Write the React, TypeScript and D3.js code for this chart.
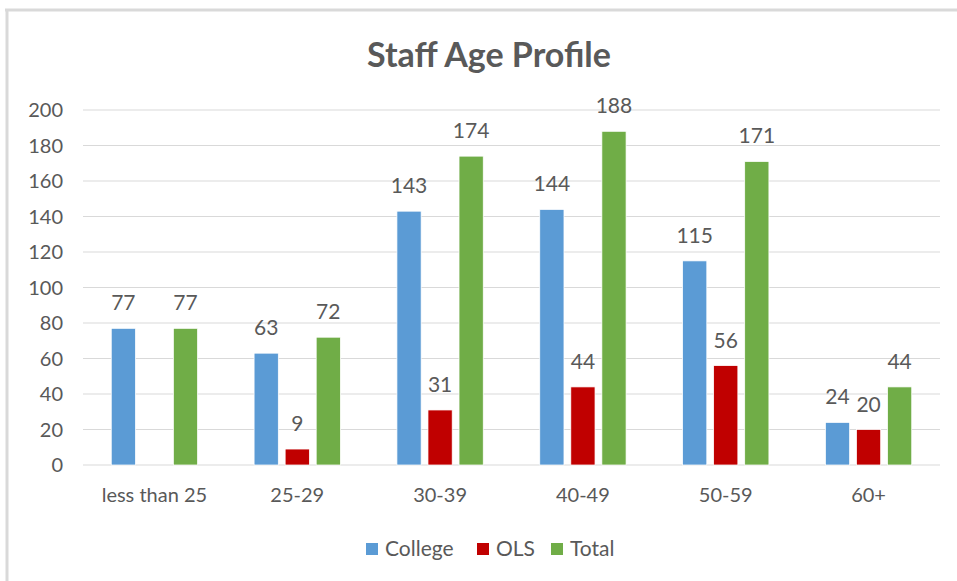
import * as d3 from "d3";

const categories = ["less than 25", "25-29", "30-39", "40-49", "50-59", "60+"];
const seriesNames = ["College", "OLS", "Total"];
const college = [77, 63, 143, 144, 115, 24];
const ols = [null, 9, 31, 44, 56, 20];
const total = [77, 72, 174, 188, 171, 44];
const yTicks = [0, 20, 40, 60, 80, 100, 120, 140, 160, 180, 200];
const colors = ["#5B9BD5", "#C00000", "#70AD47"];

const W = 957;
const H = 581;
const margin = { top: 110, right: 17, bottom: 116, left: 83 };
const font = "Lato, 'Open Sans', sans-serif";
const textColor = "#595959";

export default function App() {
  const values = [college, ols, total];

  const x0 = d3
    .scaleBand<string>()
    .domain(categories)
    .range([margin.left, W - margin.right]);

  const x1 = d3
    .scaleBand<string>()
    .domain(seriesNames)
    .range([0, x0.bandwidth()])
    .paddingInner(0.22)
    .paddingOuter(0.91);

  const y = d3
    .scaleLinear()
    .domain([0, 200])
    .range([H - margin.bottom, margin.top]);

  // legend layout
  const legendX = [366, 477, 551];

  return (
    <svg
      width={W}
      height={H}
      style={{ position: "absolute", left: 0, top: 0, background: "#fff" }}
      fontFamily={font}
    >
      {/* chart frame (only top and left edges visible) */}
      <line x1={5} x2={W} y1={10} y2={10} stroke="#D9D9D9" strokeWidth={3} />
      <line x1={7} x2={7} y1={9} y2={H} stroke="#D9D9D9" strokeWidth={3} />

      <text
        x={489}
        y={67}
        textAnchor="middle"
        fontSize={34}
        fontWeight="bold"
        fill={textColor}
      >
        Staff Age Profile
      </text>

      {/* grid + y ticks */}
      {yTicks.map((t) => (
        <g key={t}>
          <line
            x1={margin.left}
            x2={W - margin.right}
            y1={y(t)}
            y2={y(t)}
            stroke="#D9D9D9"
            strokeWidth={1}
          />
          <text
            x={63}
            y={y(t)}
            dy="0.35em"
            textAnchor="end"
            fontSize={20}
            fill={textColor}
          >
            {t}
          </text>
        </g>
      ))}

      {/* bars */}
      {categories.map((c, i) => (
        <g key={c} transform={`translate(${x0(c)},0)`}>
          {seriesNames.map((s, j) => {
            const v = values[j][i];
            if (v == null) return null;
            const bx = x1(s)!;
            return (
              <g key={s}>
                <rect
                  x={bx}
                  y={y(v)}
                  width={x1.bandwidth()}
                  height={y(0) - y(v)}
                  fill={colors[j]}
                  stroke="#fff"
                  strokeWidth={0.75}
                />
                <text
                  x={bx + x1.bandwidth() / 2}
                  y={y(v) - 18}
                  textAnchor="middle"
                  fontSize={21}
                  fill={textColor}
                >
                  {v}
                </text>
              </g>
            );
          })}
          <text
            x={x0.bandwidth() / 2}
            y={y(0) + 37}
            textAnchor="middle"
            fontSize={20}
            fill={textColor}
          >
            {c}
          </text>
        </g>
      ))}

      {/* legend */}
      {seriesNames.map((s, j) => (
        <g key={s} transform={`translate(${legendX[j]},549)`}>
          <rect x={0} y={-6} width={12} height={12} fill={colors[j]} />
          <text x={19} y={0} dy="0.35em" fontSize={21} fill={textColor}>
            {s}
          </text>
        </g>
      ))}
    </svg>
  );
}
